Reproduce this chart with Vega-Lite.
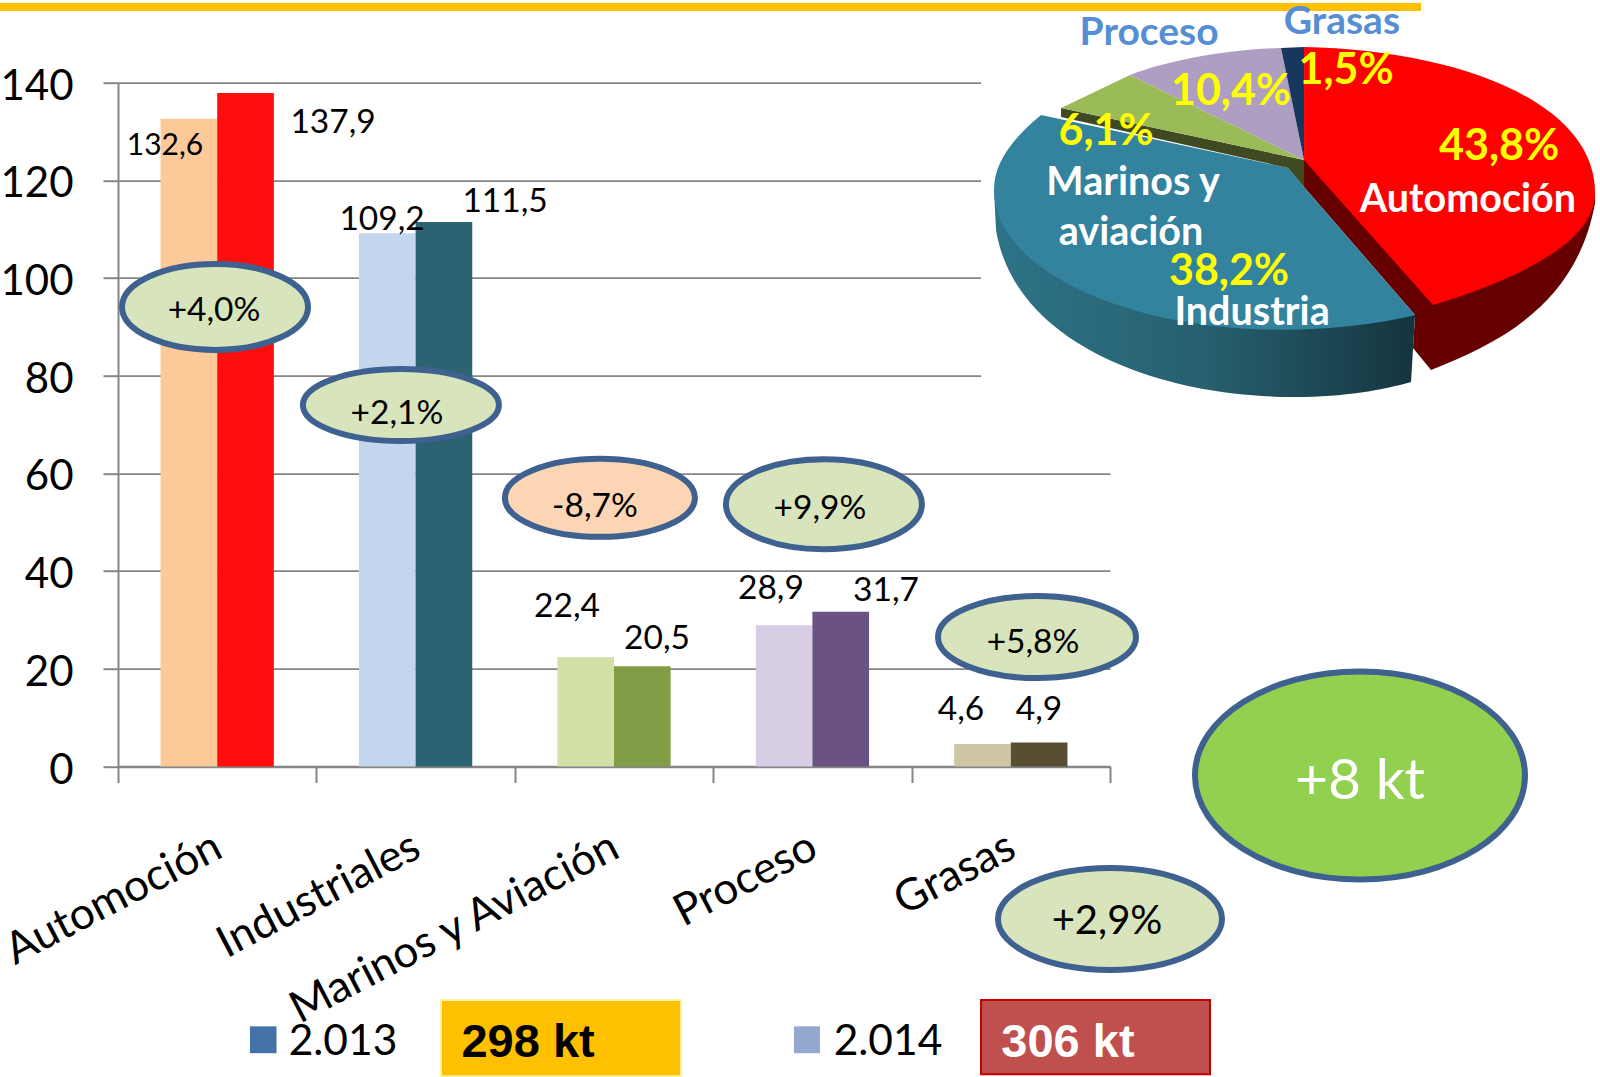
{
"$schema":"https://vega.github.io/schema/vega-lite/v6.json",
"autosize":{"type":"none"},
"padding":{"left":118,"top":82.7,"right":490,"bottom":310.5},
"width":992,"height":683.8,"background":"#ffffff",
"config":{"view":{"stroke":null},"font":"Lato"},
"resolve":{"scale":{"x":"independent"}},
"layer":[
{"data":{"values":[
{"categoria":"Automoción","anio":"2013","serie":"a13","valor":132.6},
{"categoria":"Automoción","anio":"2014","serie":"a14","valor":137.9},
{"categoria":"Industriales","anio":"2013","serie":"i13","valor":109.2},
{"categoria":"Industriales","anio":"2014","serie":"i14","valor":111.5},
{"categoria":"Marinos y Aviación","anio":"2013","serie":"m13","valor":22.4},
{"categoria":"Marinos y Aviación","anio":"2014","serie":"m14","valor":20.5},
{"categoria":"Proceso","anio":"2013","serie":"p13","valor":28.9},
{"categoria":"Proceso","anio":"2014","serie":"p14","valor":31.7},
{"categoria":"Grasas","anio":"2013","serie":"g13","valor":4.6},
{"categoria":"Grasas","anio":"2014","serie":"g14","valor":4.9}
]},
"mark":{"type":"bar"},
"encoding":{
"x":{"field":"categoria","type":"nominal","sort":null,"title":null,"scale":{"paddingInner":0,"paddingOuter":0},
"axis":{"tickBand":"extent","labelAngle":-27.5,"labelAlign":"right","labelBaseline":"top","labelPadding":42,"labelOffset":-9,"labelFont":"Lato","labelFontSize":44,"labelColor":"#000000","domainColor":"#868686","domainWidth":2.5,"tickColor":"#868686","tickWidth":2,"tickSize":16,"grid":false,"labelOverlap":false,"labelBound":false,"labelLimit":600}},
"xOffset":{"field":"anio","type":"nominal","scale":{"paddingOuter":0.751,"paddingInner":0}},
"y":{"field":"valor","type":"quantitative","title":null,"scale":{"domain":[0,140],"nice":false},
"axis":{"values":[0,20,40,60,80,100,120,140],"grid":true,"gridColor":"#868686","gridWidth":1.8,"domainColor":"#868686","domainWidth":2,"tickColor":"#868686","tickWidth":2,"tickSize":15,"labelPadding":30,"labelOffset":3.5,"labelFont":"Lato","labelFontSize":42,"labelColor":"#000000"}},
"color":{"field":"serie","type":"nominal","legend":null,"scale":{"domain":["a13","a14","i13","i14","m13","m14","p13","p14","g13","g14"],"range":["#fdc999","#ff0d0d","#c3d6ee","#2b6373","#d1e1a7","#819d46","#d7cde5","#6a5283","#cfc6a3","#574e33"]}}
}},
{"encoding":{
"x":{"field":"x","type":"quantitative","title":null,"axis":null,"scale":{"domain":[0,5],"nice":false,"zero":false}},
"y":{"field":"y","type":"quantitative","title":null,"scale":{"domain":[0,140],"nice":false}}
},
"resolve":{"scale":{"shape":"independent","fill":"independent"}},
"layer":[
{"data":{"values":[{"x":4.35,"x2":5.2,"y":70,"y2":150}]},
"mark":{"type":"rect","fill":"#ffffff"},
"encoding":{"x2":{"field":"x2"},"y2":{"field":"y2"}}},
{"data":{"values":[{"x":-0.595,"x2":6.568,"y":155.5}]},
"mark":{"type":"rule","stroke":"#ffc000","strokeWidth":8},
"encoding":{"x2":{"field":"x2"}}},
{"data":{"values":[{"x":5.978,"y":124.18,"parte":"Pared Automoción"}]},
"mark":{"type":"point","filled":true,"opacity":1,"size":4,"fill":"#660000","stroke":null,"shape":"M0,0 L0,27 L111,155 L109,188 L127,210 C198,182 273,143 291,43 L291,33 Z"}},
{"data":{"values":[{"x":5.978,"y":124.18,"parte":"Pared Industria"}]},
"mark":{"type":"point","filled":true,"opacity":1,"size":4,"stroke":null,"shape":"M-310,30 L-308,70 C-289,187 -138,238 -8,237 C40,237 79,230 107,222 L111,155 Z",
"fill":{"gradient":"linear","x1":0,"y1":0,"x2":1,"y2":0,"stops":[{"offset":0,"color":"#2d7388"},{"offset":0.5,"color":"#27606f"},{"offset":1,"color":"#15343f"}]}}},
{"data":{"values":[
{"x":5.978,"y":124.18,"parte":"Industria"},
{"x":5.978,"y":124.18,"parte":"Automoción"},
{"x":5.978,"y":124.18,"parte":"Corte"},
{"x":5.978,"y":124.18,"parte":"Marinos"},
{"x":5.978,"y":124.18,"parte":"Proceso"},
{"x":5.978,"y":124.18,"parte":"Grasas"}
]},
"mark":{"type":"point","filled":true,"opacity":1,"size":4,"stroke":null},
"encoding":{
"shape":{"field":"parte","type":"nominal","legend":null,"scale":{"domain":["Industria","Automoción","Corte","Marinos","Proceso","Grasas"],"range":[
"M-263,-45 L-16,8 L0,27 L111,155 C51,170 -40,175 -111,163 C-217,147 -310,97 -310,30 C-310,3 -293,-20 -263,-45 Z",
"M0,0 L0,-113 C150,-110 291,-60 291,33 C291,80 221,117 129,145 Z",
"M-243,-52 L-243,-43 L-16,8 L0,27 L0,0 Z",
"M-243,-52 L-174,-85 L0,0 Z",
"M-174,-85 C-134,-100 -79,-110 -23,-112 L0,0 Z",
"M-23,-112 L0,-113 L0,0 Z"]}},
"fill":{"field":"parte","type":"nominal","legend":null,"scale":{"domain":["Industria","Automoción","Corte","Marinos","Proceso","Grasas"],"range":["#33839e","#ff0000","#3f4a22","#9bbb59","#ad9ec2","#17375e"]}}
}},
{"data":{"values":[
{"x":0.489,"y":94.1,"etiqueta":"+4,0%"},
{"x":1.426,"y":74.0,"etiqueta":"+2,1%"},
{"x":2.429,"y":55.0,"etiqueta":"-8,7%"},
{"x":3.558,"y":53.7,"etiqueta":"+9,9%"},
{"x":4.632,"y":26.5,"etiqueta":"+5,8%"},
{"x":6.26,"y":-1.84,"etiqueta":"+8 kt"},
{"x":5.0,"y":-31.2,"etiqueta":"+2,9%"}
]},
"mark":{"type":"point","filled":true,"opacity":1,"size":4,"stroke":"#3e618f","strokeWidth":6},
"encoding":{
"shape":{"field":"etiqueta","type":"nominal","legend":null,"scale":{"domain":["+4,0%","+2,1%","-8,7%","+9,9%","+5,8%","+8 kt","+2,9%"],"range":[
"M-93,0 A93,43 0 1 0 93,0 A93,43 0 1 0 -93,0 Z",
"M-98,0 A98,36 0 1 0 98,0 A98,36 0 1 0 -98,0 Z",
"M-95,0 A95,39 0 1 0 95,0 A95,39 0 1 0 -95,0 Z",
"M-98,0 A98,45 0 1 0 98,0 A98,45 0 1 0 -98,0 Z",
"M-99,0 A99,41 0 1 0 99,0 A99,41 0 1 0 -99,0 Z",
"M-165,0 A165,104 0 1 0 165,0 A165,104 0 1 0 -165,0 Z",
"M-112,0 A112,51 0 1 0 112,0 A112,51 0 1 0 -112,0 Z"]}},
"fill":{"field":"etiqueta","type":"nominal","legend":null,"scale":{"domain":["+4,0%","+2,1%","-8,7%","+9,9%","+5,8%","+8 kt","+2,9%"],"range":["#d8e4bc","#d8e4bc","#fcd5b5","#d8e4bc","#d8e4bc","#92d050","#d8e4bc"]}}
}},
{"data":{"values":[
{"x":1.628,"x2":2.838,"y":-47.8,"y2":-63.4,"caja":"2013"},
{"x":4.35,"x2":5.504,"y":-47.8,"y2":-63.0,"caja":"2014"}
]},
"mark":{"type":"rect","strokeWidth":2},
"encoding":{"x2":{"field":"x2"},"y2":{"field":"y2"},
"fill":{"field":"caja","type":"nominal","legend":null,"scale":{"domain":["2013","2014"],"range":["#ffc000","#c0504d"]}},
"stroke":{"field":"caja","type":"nominal","legend":null,"scale":{"domain":["2013","2014"],"range":["#fff2a0","#c00000"]}}}},
{"data":{"values":[
{"x":0.665,"x2":0.799,"y":-53.2,"y2":-58.7,"anio":"2013"},
{"x":3.407,"x2":3.538,"y":-53.2,"y2":-58.7,"anio":"2014"}
]},
"mark":{"type":"rect"},
"encoding":{"x2":{"field":"x2"},"y2":{"field":"y2"},
"fill":{"field":"anio","type":"nominal","legend":null,"scale":{"domain":["2013","2014"],"range":["#4673a7","#95a8d0"]}}}},
{"data":{"values":[
{"x":1.084,"y":132.2,"t":"137,9"},
{"x":1.331,"y":112.5,"t":"109,2"},{"x":1.951,"y":116.0,"t":"111,5"},
{"x":2.263,"y":33.1,"t":"22,4"},{"x":2.717,"y":26.7,"t":"20,5"},
{"x":3.291,"y":36.9,"t":"28,9"},{"x":3.871,"y":36.5,"t":"31,7"},
{"x":4.249,"y":12.0,"t":"4,6"},{"x":4.642,"y":12.0,"t":"4,9"},
{"x":0.484,"y":93.8,"t":"+4,0%"},{"x":1.406,"y":72.6,"t":"+2,1%"},
{"x":2.404,"y":53.7,"t":"-8,7%"},{"x":3.538,"y":53.3,"t":"+9,9%"},
{"x":4.612,"y":25.7,"t":"+5,8%"}
]},
"mark":{"type":"text","font":"Lato","fontSize":33.5,"color":"#000000","align":"center","baseline":"middle","dy":2.5},
"encoding":{"text":{"field":"t"}}},
{"data":{"values":[{"x":0.237,"y":127.5,"t":"132,6"}]},
"mark":{"type":"text","font":"Lato","fontSize":30,"color":"#000000","align":"center","baseline":"middle","dy":2.5},
"encoding":{"text":{"field":"t"}}},
{"data":{"values":[{"x":4.985,"y":-31.4,"t":"+2,9%"}]},
"mark":{"type":"text","font":"Lato","fontSize":40,"color":"#000000","align":"center","baseline":"middle","dy":2.5},
"encoding":{"text":{"field":"t"}}},
{"data":{"values":[{"x":6.26,"y":-2.56,"t":"+8 kt"}]},
"mark":{"type":"text","font":"Lato","fontSize":57,"color":"#ffffff","align":"center","baseline":"middle","dy":3},
"encoding":{"text":{"field":"t"}}},
{"data":{"values":[{"x":1.134,"y":-55.8,"t":"2.013"},{"x":3.881,"y":-55.8,"t":"2.014"}]},
"mark":{"type":"text","font":"Lato","fontSize":42.5,"color":"#000000","align":"center","baseline":"middle","dy":3},
"encoding":{"text":{"field":"t"}}},
{"data":{"values":[{"x":2.067,"y":-56.2,"t":"298 kt"}]},
"mark":{"type":"text","font":"Liberation Sans","fontWeight":"bold","fontSize":47,"color":"#000000","align":"center","baseline":"middle","dy":2},
"encoding":{"text":{"field":"t"}}},
{"data":{"values":[{"x":4.788,"y":-56.2,"t":"306 kt"}]},
"mark":{"type":"text","font":"Liberation Sans","fontWeight":"bold","fontSize":47,"color":"#ffffff","align":"center","baseline":"middle","dy":2},
"encoding":{"text":{"field":"t"}}},
{"data":{"values":[{"x":5.197,"y":150.6,"t":"Proceso"},{"x":6.169,"y":152.8,"t":"Grasas"}]},
"mark":{"type":"text","font":"Lato","fontWeight":"bold","fontSize":39,"color":"#558ed5","align":"center","baseline":"middle","dy":2},
"encoding":{"text":{"field":"t"}}},
{"data":{"values":[
{"x":6.961,"y":127.3,"t":"43,8%"},{"x":6.19,"y":142.8,"t":"1,5%"},
{"x":5.61,"y":138.5,"t":"10,4%"},{"x":4.98,"y":130.3,"t":"6,1%"},
{"x":5.6,"y":101.7,"t":"38,2%"}
]},
"mark":{"type":"text","font":"Lato","fontWeight":"bold","fontSize":43,"color":"#ffff00","align":"center","baseline":"middle","dy":2},
"encoding":{"text":{"field":"t"}}},
{"data":{"values":[
{"x":6.804,"y":116.4,"t":"Automoción"},{"x":5.116,"y":119.9,"t":"Marinos y"},
{"x":5.106,"y":109.6,"t":"aviación"},{"x":5.716,"y":93.2,"t":"Industria"}
]},
"mark":{"type":"text","font":"Lato","fontWeight":"bold","fontSize":39.5,"color":"#ffffff","align":"center","baseline":"middle","dy":2},
"encoding":{"text":{"field":"t"}}}
]}
]}
